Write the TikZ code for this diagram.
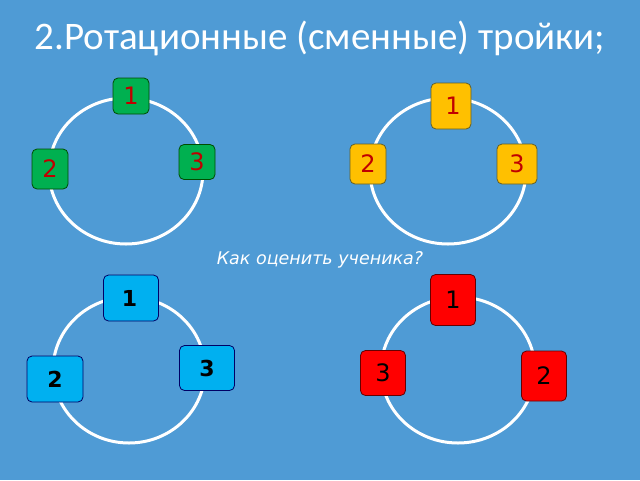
\documentclass[tikz,border=0pt]{standalone}
\usepackage{fontspec}
\setmainfont{DejaVu Sans}
\newfontfamily\titlefont{Carlito}
\usepackage{tikz}
\usetikzlibrary{positioning}
\definecolor{SlideBlue}{HTML}{4F9BD5}
\definecolor{BoxGreen}{HTML}{00B050}
\definecolor{BoxYellow}{HTML}{FFC000}
\definecolor{BoxCyan}{HTML}{00B0F0}
\definecolor{BoxRed}{HTML}{FF0000}
\definecolor{DigitRed}{HTML}{C00000}
\tikzstyle{ring} = [draw=white,line width=3pt]
\tikzstyle{card} = [rounded corners=5pt,line width=0.8pt,inner sep=0pt,font=\fontsize{24}{26}\selectfont]
\tikzstyle{greencard} = [card,fill=BoxGreen,draw=green!30!black,text=DigitRed,minimum width=36pt,minimum height=36pt]
\tikzstyle{yellowcard} = [card,fill=BoxYellow,draw=olive!60!black,text=DigitRed,minimum width=40pt,minimum height=40pt]
\tikzstyle{cyancard} = [card,fill=BoxCyan,draw=blue!40!black,text=black,font=\fontsize{22}{24}\selectfont\bfseries,minimum width=55pt,minimum height=46pt]
\tikzstyle{redcard} = [card,fill=BoxRed,draw=red!40!black,text=black,minimum width=45pt,minimum height=47pt]

\begin{document}
\begin{tikzpicture}[x=1pt,y=-1pt]
	\fill[SlideBlue] (0,0) rectangle (640,480);
	\useasboundingbox (0,0) rectangle (640,480);
	
	% title
	\node[text=white,font=\titlefont\fontsize{39}{43}\selectfont] (title) at (320,38) {2.Ротационные (сменные) тройки;};
	
	% rings
	\draw[ring] (126,171) ellipse (77 and 73);
	\draw[ring] (448,171) ellipse (78 and 73);
	\draw[ring] (129,370) ellipse (76 and 73);
	\draw[ring] (458,370) ellipse (77 and 73);
	
	% green
	\node[greencard] (g1) at (131,96) {1};
	\node[greencard,minimum height=40pt] (g2) at (50,169) {2};
	\node[greencard,minimum height=35pt] (g3) at (197,162) {3};
	
	% yellow
	\node[yellowcard,minimum height=46pt] (y1) at (451,106) {\hspace*{4pt}1};
	\node[yellowcard,minimum width=36pt] (y2) at (368,164) {2};
	\node[yellowcard] (y3) at (517,164) {3};
	
	% question
	\node[text=white,font=\itshape\fontsize{17.5}{20}\selectfont] (ask) at (320,260) {Как оценить ученика?};
	
	% cyan
	\node[cyancard] (c1) at (131,298) {\hspace*{-3pt}1};
	\node[cyancard,minimum width=56pt] (c2) at (55,379) {2};
	\node[cyancard,minimum height=45pt] (c3) at (207,368) {3};
	
	% red
	\node[redcard,minimum height=51pt] (r1) at (453,300) {1};
	\node[redcard,minimum height=50pt] (r2) at (544,376) {2};
	\node[redcard,minimum height=45pt] (r3) at (383,373) {3};
\end{tikzpicture}
\end{document}
